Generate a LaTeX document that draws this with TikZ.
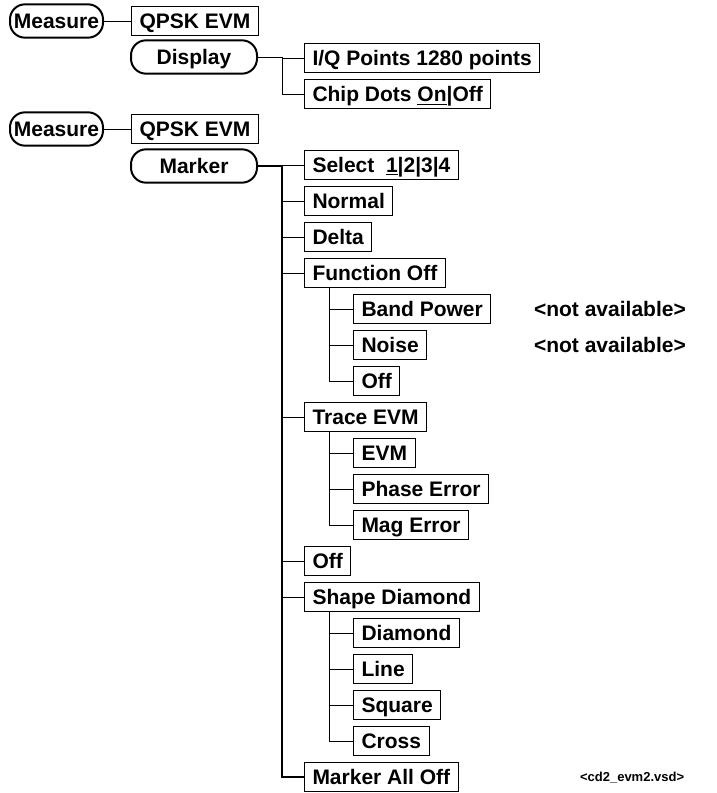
\documentclass[tikz,border=0pt]{standalone}
\usepackage{fontspec}
\setmainfont{Liberation Sans}
\usetikzlibrary{positioning,calc}

\begin{document}
\begin{tikzpicture}[
  x=0.5pt, y=-0.5pt,
  font=\fontsize{10.5}{12}\selectfont\bfseries,
  keybox/.style={
    draw, line width=0.5pt, minimum height=14.5pt,
    text height=8.5pt, text depth=1.5pt,
    inner xsep=4pt, inner ysep=1pt, anchor=west,
  },
  softkey/.style={
    draw, line width=1pt, rounded corners=7.5pt,
    text height=8.5pt, text depth=1.5pt,
    minimum height=15pt, minimum width=63pt, inner xsep=1.5pt,
  },
  meas/.style={softkey, minimum width=46.5pt},
  link/.style={line width=0.5pt},
]
\useasboundingbox (0,0) rectangle (717,793);
% display menu
\node[meas] (meas1) at (56.5,21) {Measure};
\node[keybox] (qpsk1) at (131,21) {QPSK EVM};
\node[softkey] (disp) at (194,57) {Display};
\node[keybox] (iq) at (304,58) {I/Q Points 1280 points};
\node[keybox] (chip) at (304,94) {Chip Dots \underline{On}|Off};
\coordinate (dtrunk) at (282,57);
\draw[link] (meas1) -- (qpsk1);
\draw[link] (disp) -- (dtrunk) |- (chip.west);
\draw[link] (dtrunk |- iq.west) -- (iq.west);
% marker menu
\node[meas] (meas2) at (56.5,129) {Measure};
\node[keybox] (qpsk2) at (131,129) {QPSK EVM};
\node[softkey] (mark) at (194,166) {Marker};
\coordinate (mtrunk) at (282,166);
\draw[link] (meas2) -- (qpsk2);
\foreach \nm/\txt/\y in {sel/{Select\ \ \underline{1}|2|3|4}/165,
    norm/Normal/201, delta/Delta/237, func/Function Off/273,
    trace/Trace EVM/417, moff/Off/561, shape/Shape Diamond/597,
    alloff/Marker All Off/777} {
  \node[keybox] (\nm) at (304,\y) {\txt};
  \draw[link] (mtrunk |- \nm.west) -- (\nm.west);
}
\draw[link, line width=0.7pt] (mark) -- (mtrunk) |- (alloff.west);
\foreach \up/\nm/\txt/\y in {func/bpow/Band Power/309, func/noise/Noise/345,
    func/foff/Off/381, trace/evm/EVM/453, trace/pherr/Phase Error/489,
    trace/magerr/Mag Error/525, shape/diam/Diamond/633, shape/lin/Line/669,
    shape/sqr/Square/705, shape/cross/Cross/741} {
  \node[keybox] (\nm) at (353,\y) {\txt};
  \draw[link] ([xshift=12.5pt]\up.south west) |- (\nm.west);
}
\node[anchor=west] (na1) at (527,309) {<not available>};
\node[anchor=west] (na2) at (527,345) {<not available>};
\node[anchor=west, font=\fontsize{6.5}{8}\selectfont\bfseries] (tag)
  at (573,778) {<cd2\_evm2.vsd>};
\end{tikzpicture}
\end{document}
